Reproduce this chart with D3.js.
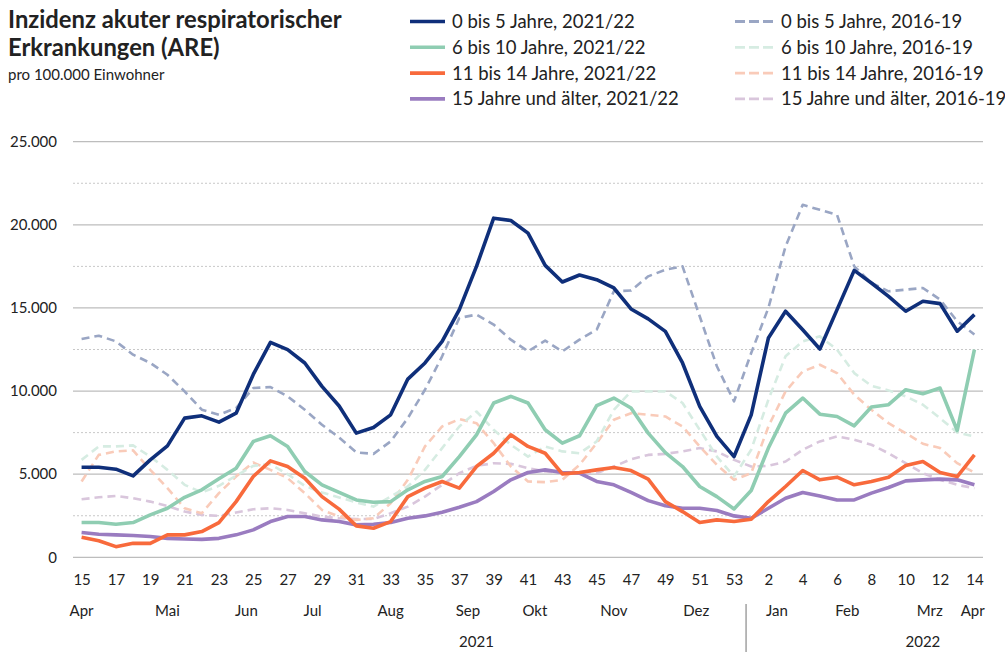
<!DOCTYPE html>
<html>
<head>
<meta charset="utf-8">
<script src="https://cdn.jsdelivr.net/npm/d3@7"></script>
<style>
  body { margin: 0; background: #fff; }
  text { font-family: Lato, "Open Sans", sans-serif; fill: #222; }
</style>
</head>
<body>
<div id="chart"></div>
<script>
// Kalenderwochen: 15-53 (2021), 1-14 (2022)
var weeks = d3.range(15, 54).map(w => ({year: 2021, week: w}))
  .concat(d3.range(1, 15).map(w => ({year: 2022, week: w})));

// Werte pro 100.000 Einwohner, je Woche
var kids05_2122 = [5420, 5420, 5300, 4900, 5860, 6700, 8370, 8510, 8130, 8670,
  11000, 12930, 12490, 11690, 10280, 9100, 7470, 7810, 8570, 10720,
  11690, 12990, 14900, 17500, 20400, 20260, 19500, 17560, 16560, 16980,
  16700, 16200, 14940, 14340, 13590, 11690, 9080, 7270, 6060, 8570,
  13190, 14800, 13690, 12530, 14900, 17260, 16500, 15700, 14800, 15400,
  15260, 13600, 14600];
var kids610_2122 = [2090, 2090, 1990, 2090, 2550, 2950, 3610, 4060, 4720, 5360,
  6970, 7310, 6670, 5160, 4360, 3900, 3450, 3310, 3350, 4060,
  4560, 4860, 6060, 7370, 9280, 9680, 9280, 7670, 6870, 7310,
  9120, 9580, 8980, 7470, 6300, 5460, 4260, 3650, 2910, 4020,
  6570, 8670, 9580, 8610, 8470, 7910, 9040, 9180, 10080, 9840,
  10180, 7630, 12490];
var kids1114_2122 = [1200, 1000, 640, 840, 840, 1350, 1350, 1550, 2090, 3350,
  4860, 5800, 5460, 4760, 3650, 2900, 1890, 1750, 2150, 3650,
  4160, 4560, 4160, 5460, 6260, 7370, 6670, 6260, 5020, 5100,
  5260, 5400, 5220, 4700, 3350, 2750, 2090, 2250, 2150, 2290,
  3350, 4260, 5220, 4660, 4820, 4360, 4560, 4820, 5520, 5760,
  5100, 4860, 6160];
var adults_2122 = [1490, 1390, 1350, 1310, 1250, 1140, 1100, 1080, 1140, 1350,
  1650, 2150, 2450, 2450, 2250, 2150, 1950, 1990, 2090, 2350,
  2490, 2710, 3010, 3350, 3960, 4660, 5100, 5260, 5100, 5060,
  4560, 4360, 3900, 3410, 3100, 2950, 2950, 2810, 2490, 2350,
  2950, 3550, 3900, 3690, 3450, 3450, 3860, 4200, 4600, 4660,
  4700, 4660, 4360];

var kids05_1619 = [13130, 13330, 12990, 12190, 11690, 10980, 9980, 8880, 8570, 8980,
  10180, 10240, 9680, 8880, 7970, 7200, 6310, 6220, 6970, 8370,
  10080, 12090, 14400, 14600, 14000, 13090, 12390, 13030, 12390, 13090,
  13690, 16000, 16050, 16900, 17300, 17500, 14500, 11490, 9380, 12290,
  15000, 18700, 21200, 20900, 20600, 17500, 16500, 16000, 16100, 16200,
  15500, 14200, 13400];
var kids610_1619 = [5860, 6670, 6670, 6730, 6060, 5260, 4360, 3900, 4300, 4900,
  5500, 5600, 5000, 4300, 3900, 3600, 3300, 3050, 3650, 4260,
  5260, 6570, 7870, 8770, 7670, 6770, 6060, 6670, 6370, 6260,
  6970, 8870, 9980, 9980, 9980, 9280, 7670, 6060, 4860, 6470,
  9480, 12090, 12990, 13290, 12490, 11080, 10320, 10040, 9680, 9180,
  8370, 7510, 7270];
var kids1114_1619 = [4560, 6160, 6370, 6430, 5260, 4160, 2950, 2650, 3860, 4860,
  5700, 5260, 4760, 3860, 2850, 2450, 2250, 2350, 3250, 4660,
  6670, 7870, 8310, 8070, 6870, 5460, 4560, 4520, 4660, 5560,
  6870, 8270, 8670, 8570, 8470, 7870, 6670, 5560, 4660, 5060,
  7870, 9980, 11180, 11580, 11080, 9780, 8870, 8070, 7470, 6830,
  6570, 5660, 5100];
var adults_1619 = [3490, 3610, 3690, 3550, 3350, 3090, 2750, 2550, 2490, 2690,
  2890, 2950, 2850, 2650, 2450, 2350, 2300, 2300, 2650, 3050,
  3650, 4360, 5060, 5500, 5660, 5620, 5360, 5160, 5060, 5020,
  5060, 5460, 5900, 6160, 6220, 6370, 6570, 6370, 5860, 5460,
  5500, 5760, 6470, 6970, 7270, 7070, 6770, 6260, 5660, 5060,
  4660, 4360, 4160];

var yTicks = [0, 2500, 5000, 7500, 10000, 12500, 15000, 17500, 20000, 22500, 25000];

// Monate: Beschriftung, zentriert auf Wochenindex
var monthLabels = [
  {label: "Apr", at: 0}, {label: "Mai", at: 5}, {label: "Jun", at: 9.6},
  {label: "Jul", at: 13.45}, {label: "Aug", at: 18}, {label: "Sep", at: 22.5},
  {label: "Okt", at: 26.4}, {label: "Nov", at: 31}, {label: "Dez", at: 35.8},
  {label: "Jan", at: 40.5}, {label: "Feb", at: 44.6}, {label: "Mrz", at: 49.4},
  {label: "Apr", at: 51.9}
];
var yearLabels = [{label: "2021", at: 23}, {label: "2022", at: 49}];

var series = [
  {name: "0 bis 5 Jahre, 2021/22", values: kids05_2122, color: "#0f2f7a", dash: null},
  {name: "6 bis 10 Jahre, 2021/22", values: kids610_2122, color: "#8fcdb2", dash: null},
  {name: "11 bis 14 Jahre, 2021/22", values: kids1114_2122, color: "#f86a3c", dash: null},
  {name: "15 Jahre und älter, 2021/22", values: adults_2122, color: "#9a7cc0", dash: null},
  {name: "0 bis 5 Jahre, 2016-19", values: kids05_1619, color: "#9aa6c4", dash: "8,5"},
  {name: "6 bis 10 Jahre, 2016-19", values: kids610_1619, color: "#d6ece2", dash: "8,5"},
  {name: "11 bis 14 Jahre, 2016-19", values: kids1114_1619, color: "#f9cbb9", dash: "8,5"},
  {name: "15 Jahre und älter, 2016-19", values: adults_1619, color: "#d9c6dc", dash: "8,5"}
];

var svgWidth = 1005;
var svgHeight = 652;

var svg = d3.select("#chart")
  .append("svg")
  .attr("width", svgWidth)
  .attr("height", svgHeight);

var plot = {left: 73, right: 983, top: 141.7, bottom: 557.3};

var xScale = d3.scalePoint()
  .domain(d3.range(weeks.length))
  .range([plot.left, plot.right])
  .padding(0.5);
var step = xScale.step();
var xIdx = i => xScale(0) + i * step;

var yScale = d3.scaleLinear()
  .domain([0, 25000])
  .range([plot.bottom, plot.top]);

// Gitternetz
svg.append("g").selectAll("line")
  .data(yTicks)
  .enter()
  .append("line")
  .attr("x1", plot.left)
  .attr("x2", plot.right)
  .attr("y1", d => yScale(d))
  .attr("y2", d => yScale(d))
  .attr("stroke", d => d % 5000 === 0 ? "#bdbdbd" : "#c8c8c8")
  .attr("stroke-width", d => d % 5000 === 0 ? 1.3 : 1)
  .attr("stroke-dasharray", d => d % 5000 === 0 ? null : "2,2");

// y-Achse
var fmt = d3.formatLocale({decimal: ",", thousands: ".", grouping: [3], currency: ["", "€"]}).format(",");
var leftAxis = d3.axisLeft(yScale)
  .tickValues(yTicks.filter(d => d % 5000 === 0))
  .tickFormat(fmt)
  .tickSize(0)
  .tickPadding(16);
svg.append("g")
  .attr("transform", `translate(${plot.left}, 0)`)
  .call(leftAxis)
  .call(g => g.select(".domain").remove())
  .selectAll("text")
  .style("font-size", "15px")
  .style("font-family", "Lato, sans-serif")
  .attr("fill", "#222");

// x-Achse (Wochen)
var bottomAxis = d3.axisBottom(xScale)
  .tickValues(d3.range(0, weeks.length, 2))
  .tickFormat(i => weeks[i].week)
  .tickSize(0)
  .tickPadding(17);
svg.append("g")
  .attr("transform", `translate(0, ${plot.bottom})`)
  .call(bottomAxis)
  .call(g => g.select(".domain").remove())
  .selectAll("text")
  .style("font-size", "15px")
  .style("font-family", "Lato, sans-serif")
  .attr("fill", "#222");

svg.append("g").selectAll("text")
  .data(monthLabels)
  .enter()
  .append("text")
  .attr("x", d => xIdx(d.at))
  .attr("y", 616)
  .attr("text-anchor", "middle")
  .style("font-size", "15px")
  .text(d => d.label);

svg.append("g").selectAll("text")
  .data(yearLabels)
  .enter()
  .append("text")
  .attr("x", d => xIdx(d.at))
  .attr("y", 647)
  .attr("text-anchor", "middle")
  .style("font-size", "15px")
  .text(d => d.label);

// Trennlinie zwischen den Jahren
svg.append("line")
  .attr("x1", xIdx(38.7)).attr("x2", xIdx(38.7))
  .attr("y1", 604).attr("y2", 652)
  .attr("stroke", "#8a8a8a")
  .attr("stroke-width", 1.2);

// Linien: zuerst die Vergleichsjahre, dann 2021/22
var line = d3.line()
  .x((d, i) => xScale(i))
  .y(d => yScale(d));

var drawOrder = series.slice(4).reverse().concat(series.slice(0, 4).reverse());
svg.append("g").selectAll("path")
  .data(drawOrder)
  .enter()
  .append("path")
  .attr("d", d => line(d.values))
  .attr("fill", "none")
  .attr("stroke", d => d.color)
  .attr("stroke-width", d => d.dash ? 2.6 : 3.6)
  .attr("stroke-dasharray", d => d.dash)
  .attr("stroke-linejoin", "round");

// Titel
svg.append("text")
  .attr("x", 8).attr("y", 28)
  .style("font-size", "23.8px").style("font-weight", "bold")
  .attr("fill", "#111")
  .text("Inzidenz akuter respiratorischer");
svg.append("text")
  .attr("x", 8).attr("y", 56)
  .style("font-size", "23.8px").style("font-weight", "bold")
  .attr("fill", "#111")
  .text("Erkrankungen (ARE)");
svg.append("text")
  .attr("x", 8).attr("y", 80)
  .style("font-size", "15px")
  .text("pro 100.000 Einwohner");

// Legende
var legend = svg.append("g").selectAll("g")
  .data(series)
  .enter()
  .append("g")
  .attr("transform", (d, i) => `translate(${i < 4 ? 410 : 735}, ${21.5 + (i % 4) * 25.8})`);
legend.append("line")
  .attr("x1", 0).attr("x2", d => d.dash ? 38 : 35)
  .attr("stroke", d => d.color)
  .attr("stroke-width", d => d.dash ? 2.8 : 3.6)
  .attr("stroke-dasharray", d => d.dash ? "10,4" : null);
legend.append("text")
  .attr("x", d => d.dash ? 46 : 42)
  .attr("dy", "0.35em")
  .style("font-size", "18.5px")
  .text(d => d.name);
</script>
</body>
</html>
